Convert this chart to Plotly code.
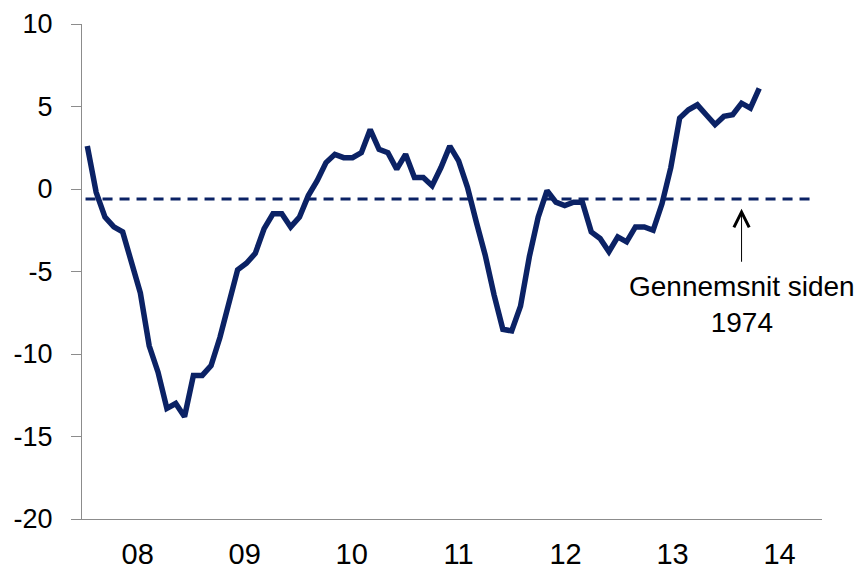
import plotly.graph_objects as go

# monthly index, first observation = 0
values = [
    2.6, -0.2, -1.7, -2.3, -2.6, -4.4, -6.3, -9.5, -11.1, -13.3,
    -13.0, -13.8, -11.3, -11.3, -10.7, -9.0, -7.0, -4.9, -4.5, -3.9,
    -2.4, -1.5, -1.5, -2.3, -1.7, -0.4, 0.5, 1.6, 2.1, 1.9,
    1.9, 2.2, 3.6, 2.4, 2.2, 1.2, 2.1, 0.7, 0.7, 0.2,
    1.3, 2.6, 1.7, 0.1, -2.0, -4.0, -6.4, -8.5, -8.6, -7.1,
    -4.1, -1.7, -0.1, -0.8, -1.0, -0.8, -0.8, -2.6, -3.0, -3.8,
    -2.9, -3.2, -2.3, -2.3, -2.5, -0.9, 1.3, 4.3, 4.8, 5.1,
    4.5, 3.9, 4.4, 4.5, 5.2, 4.9, 6.1,
]
months = list(range(len(values)))

average = -0.6
average_span = [-0.2, 82.3]

year_labels = ["08", "09", "10", "11", "12", "13", "14"]
year_pos = [5.7, 17.8, 29.9, 42.0, 54.1, 66.2, 78.3]

y_ticks = [10, 5, 0, -5, -10, -15, -20]
y_labels = ["10", "5", "0", "-5", "-10", "-15", "-20"]

navy = "#0b2265"
font = "Liberation Sans, Arial, sans-serif"

fig = go.Figure()

fig.add_trace(
    go.Scatter(
        x=average_span,
        y=[average, average],
        mode="lines",
        line=dict(color=navy, width=3, dash="10px,7px"),
        hoverinfo="skip",
    )
)

fig.add_trace(
    go.Scatter(
        x=months,
        y=values,
        mode="lines",
        line=dict(color=navy, width=5.5),
    )
)

# arrow pointing at the average line
fig.add_annotation(
    x=74, y=average - 0.6, ax=74, ay=-4.5,
    xref="x", yref="y", axref="x", ayref="y",
    text="", showarrow=True, arrowhead=5, arrowsize=3,
    arrowwidth=1, arrowcolor="black",
)
fig.add_annotation(
    x=74, y=-7.0, xref="x", yref="y",
    text="Gennemsnit siden<br>1974", showarrow=False,
    font=dict(family=font, size=28, color="black"),
    align="center", yanchor="middle",
)

fig.update_layout(
    width=858,
    height=571,
    margin=dict(l=82, r=36, t=24, b=52),
    plot_bgcolor="white",
    paper_bgcolor="white",
    showlegend=False,
    font=dict(family=font, size=27, color="black"),
)

fig.update_xaxes(
    range=[-0.6, 83.1],
    tickmode="array",
    tickvals=year_pos,
    ticktext=year_labels,
    ticks="",
    showgrid=False,
    zeroline=False,
    showline=True,
    linecolor="#8c8c8c",
    linewidth=1,
    ticklabelstandoff=9,
    tickfont=dict(size=29),
    automargin=False,
)

fig.update_yaxes(
    range=[-20, 10],
    tickmode="array",
    tickvals=y_ticks,
    ticktext=y_labels,
    ticks="outside",
    ticklen=10,
    tickcolor="#8c8c8c",
    showgrid=False,
    zeroline=False,
    showline=True,
    linecolor="#8c8c8c",
    linewidth=1,
    ticklabelstandoff=13,
    automargin=False,
)

# drop the default page margin so the figure sits at the window corner
fig.write_html(
    "out.html",
    config={"displayModeBar": False},
    post_script="document.body.style.margin = '0';",
)
